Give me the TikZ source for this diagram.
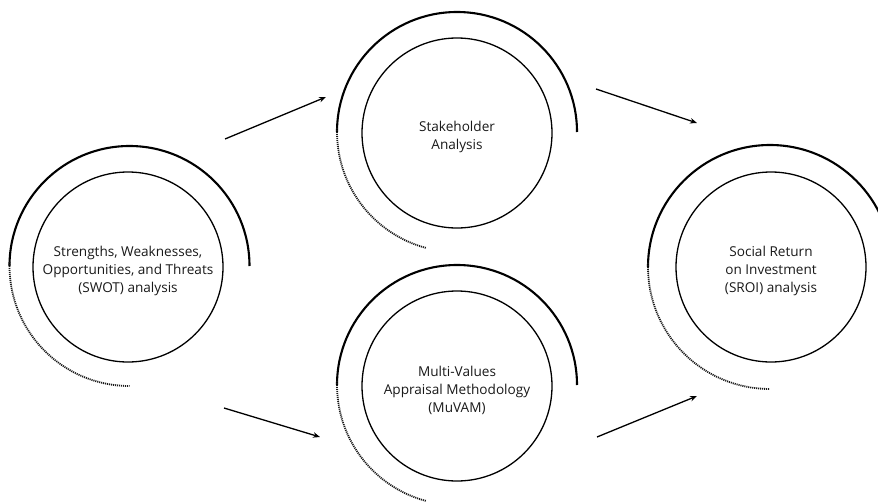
\documentclass[tikz,border=0pt]{standalone}
\usepackage{fontspec}
\setmainfont{Open Sans}
\usetikzlibrary{arrows.meta}
\begin{document}
\begin{tikzpicture}[x=1pt,y=-1pt,
  inner/.style={circle,draw,line width=1.3pt,minimum size=190pt,inner sep=0pt},
  lbl/.style={align=center,inner sep=0pt,text=black!90,font=\fontsize{13.6}{18}\selectfont},
  outer/.style={line width=2.1pt},
  dots/.style={line width=1.8pt,dash pattern=on 1.1pt off 0.9pt,black!90},
  arr/.style={line width=1.3pt,-{Stealth[length=7pt,width=5.5pt]}}]
\useasboundingbox (0,0) rectangle (878,503);
\clip (0,0) rectangle (878,503);
% left
\node[inner] (swot) at (128,267) {};
\node[lbl] (swotT) at ([yshift=-4pt]swot.center) {Strengths, Weaknesses,\\Opportunities, and Threats\\(SWOT) analysis};
\draw[outer] (129.5,266) ++(180:120) arc[start angle=180,end angle=360,radius=120];
\draw[dots] (129.5,266) ++(182:120) arc[start angle=182,end angle=90,radius=120];
% top
\node[inner] (stake) at (457,133) {};
\node[lbl] (stakeT) at ([yshift=-4pt]stake.center) {Stakeholder\\Analysis};
\draw[outer] (457,132) ++(180:120) arc[start angle=180,end angle=360,radius=120];
\draw[dots] (457,132) ++(182:120) arc[start angle=182,end angle=105,radius=120];
% bottom
\node[inner] (muvam) at (457,386) {};
\node[lbl] (muvamT) at ([yshift=-4pt]muvam.center) {Multi-Values\\Appraisal Methodology\\(MuVAM)};
\draw[outer] (457,385) ++(180:120) arc[start angle=180,end angle=360,radius=120];
\draw[dots] (457,385) ++(182:120) arc[start angle=182,end angle=105,radius=120];
% right
\node[inner] (sroi) at (771,267) {};
\node[lbl] (sroiT) at ([yshift=-4pt]sroi.center) {Social Return\\on Investment\\(SROI) analysis};
\draw[outer] (770,267) ++(180:122) arc[start angle=180,end angle=360,radius=122];
\draw[dots] (770,267) ++(182:122) arc[start angle=182,end angle=90,radius=122];
% arrows
\coordinate (a1s) at (225,139); \coordinate (a1e) at (326,97);
\coordinate (a2s) at (596,89);  \coordinate (a2e) at (697,123);
\coordinate (a3s) at (224,408); \coordinate (a3e) at (320,437);
\coordinate (a4s) at (597,437); \coordinate (a4e) at (697,396);
\draw[arr] (a1s) -- (a1e);
\draw[arr] (a2s) -- (a2e);
\draw[arr] (a3s) -- (a3e);
\draw[arr] (a4s) -- (a4e);
\end{tikzpicture}
\end{document}
